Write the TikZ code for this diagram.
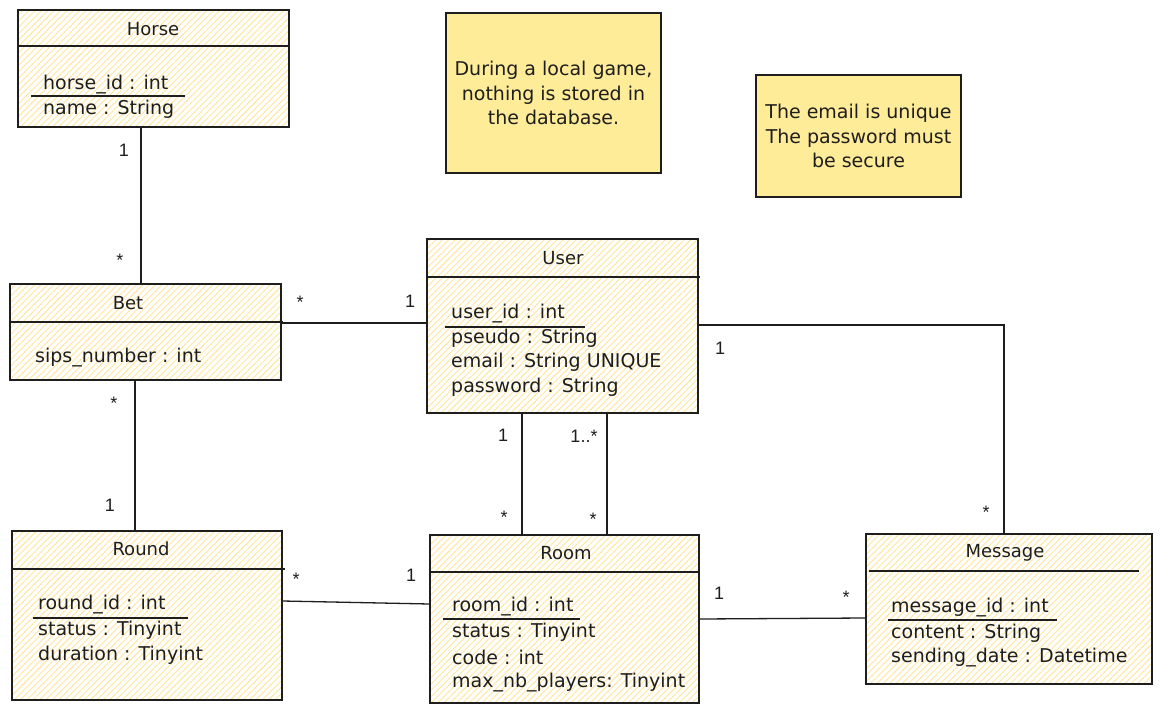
\documentclass[tikz,border=0pt]{standalone}
\usepackage{fontspec}
\setmainfont{DejaVu Sans}
\newfontfamily\labelfont{Liberation Sans}
\usetikzlibrary{patterns.meta}
\definecolor{ink}{HTML}{1E1E1E}
\definecolor{sticky}{HTML}{FFEC99}
\definecolor{hatch}{HTML}{FFE69A}

\tikzset{
  classbox/.style={draw=ink, line width=1.2pt, rectangle, inner sep=0pt,
    pattern={Lines[angle=45,distance=4.5pt,line width=0.9pt]}, pattern color=hatch},
  notebox/.style={draw=ink, line width=1.2pt, fill=sticky, align=center, inner sep=0pt,
    font=\fontsize{19}{24.5}\selectfont, text=ink},
  title/.style={font=\fontsize{18}{20}\selectfont, text=ink, inner sep=0pt},
  attr/.style={font=\fontsize{19}{20}\selectfont, text=ink, anchor=west, inner sep=0pt},
  sepline/.style={draw=ink, line width=1.3pt},
  keyline/.style={draw=ink, line width=2pt},
  link/.style={draw=ink, line width=1.3pt},
  mult/.style={font=\labelfont\fontsize{18}{18}\selectfont, text=ink, inner sep=0pt}
}

\begin{document}
\begin{tikzpicture}[x=1pt,y=-1pt]
\useasboundingbox[fill=white] (0,0) rectangle (1161,714);

% ---------- class boxes ----------
\node[classbox, minimum width=271pt, minimum height=117pt] (horse)   at (153.5,68.5) {};
\node[classbox, minimum width=271pt, minimum height=96pt]  (bet)     at (145.5,332)  {};
\node[classbox, minimum width=271pt, minimum height=174pt] (user)    at (562.5,326)  {};
\node[classbox, minimum width=270pt, minimum height=169pt] (round)   at (147,615.5)  {};
\node[classbox, minimum width=269pt, minimum height=168pt] (room)    at (564.5,619)  {};
\node[classbox, minimum width=286pt, minimum height=150pt] (message) at (1009,609)   {};

% ---------- sticky notes ----------
\node[notebox, minimum width=215pt, minimum height=160pt] (note1) at (553.5,93)
  {During a local game,\\nothing is stored in\\the database.};
\node[notebox, minimum width=205pt, minimum height=122pt] (note2) at (858.5,136)
  {The email is unique\\The password must\\be secure};

% ---------- Horse ----------
\draw[sepline] (18,46) -- (290,46);
\node[title] (horseT) at (153,29) {Horse};
\node[attr] (horseA) at (43,85)  {horse\_id : int};
\node[attr] (horseB) at (43,109) {name : String};
\draw[keyline] (31,96) -- (185,96);

% ---------- Bet ----------
\draw[sepline] (10,322) -- (283,322);
\node[title] (betT) at (128,303) {Bet};
\node[attr] (betA) at (35,358) {sips\_number : int};

% ---------- User ----------
\draw[sepline] (427,277) -- (700,277);
\node[title] (userT) at (563,258) {User};
\node[attr] (userA) at (451,314) {user\_id : int};
\node[attr] (userB) at (451,338) {pseudo : String};
\node[attr] (userC) at (451,362) {email : String UNIQUE};
\node[attr] (userD) at (451,387) {password : String};
\draw[keyline] (445,327) -- (585,327);

% ---------- Round ----------
\draw[sepline] (12,569) -- (285,569);
\node[title] (roundT) at (141,549) {Round};
\node[attr] (roundA) at (38,605) {round\_id : int};
\node[attr] (roundB) at (38,630) {status : Tinyint};
\node[attr] (roundC) at (38,655) {duration : Tinyint};
\draw[keyline] (33,618) -- (188,618);

% ---------- Room ----------
\draw[sepline] (430,572) -- (699,572);
\node[title] (roomT) at (566,553) {Room};
\node[attr] (roomA) at (452,607) {room\_id : int};
\node[attr] (roomB) at (452,632) {status : Tinyint};
\node[attr] (roomC) at (452,657) {code : int};
\node[attr] (roomD) at (452,683) {max\_nb\_players: Tinyint};
\draw[keyline] (443,619) -- (580,619);

% ---------- Message ----------
\draw[draw=ink, line width=2pt] (869,571) -- (1139,571);
\node[title] (messageT) at (1005,553) {Message};
\node[attr] (messageA) at (891,608) {message\_id : int};
\node[attr] (messageB) at (891,633) {content : String};
\node[attr] (messageC) at (891,658) {sending\_date : Datetime};
\draw[keyline] (888,620) -- (1057,620);

% ---------- associations ----------
\draw[link] (horse.south -| 141,0) -- (bet.north -| 141,0);
\node[mult] (m1) at (124,150) {1};
\node[mult] (m2) at (120,260) {*};

\draw[link] (bet.east |- 0,323) -- (user.west |- 0,323);
\node[mult] (m3) at (300,302) {*};
\node[mult] (m4) at (410,301) {1};

\draw[link] (bet.south -| 135,0) -- (round.north -| 135,0);
\node[mult] (m5) at (114,403) {*};
\node[mult] (m6) at (110,505) {1};

\draw[link] (user.east |- 0,325) -| (message.north -| 1004,0);
\node[mult] (m7) at (720,348) {1};
\node[mult] (m8) at (986,512) {*};

\draw[link] (user.south -| 522,0) -- (room.north -| 522,0);
\draw[link] (user.south -| 607,0) -- (room.north -| 607,0);
\node[mult] (m9)  at (503,435) {1};
\node[mult] (m10) at (584,436) {1..*};
\node[mult] (m11) at (504,517) {*};
\node[mult] (m12) at (593,519) {*};

\draw[link] (round.east |- 0,601) -- (room.west |- 0,604);
\node[mult] (m13) at (296,579) {*};
\node[mult] (m14) at (411,575) {1};

\draw[link] (room.east |- 0,619) -- (message.west |- 0,618);
\node[mult] (m15) at (719,593) {1};
\node[mult] (m16) at (846,597) {*};
\end{tikzpicture}
\end{document}
